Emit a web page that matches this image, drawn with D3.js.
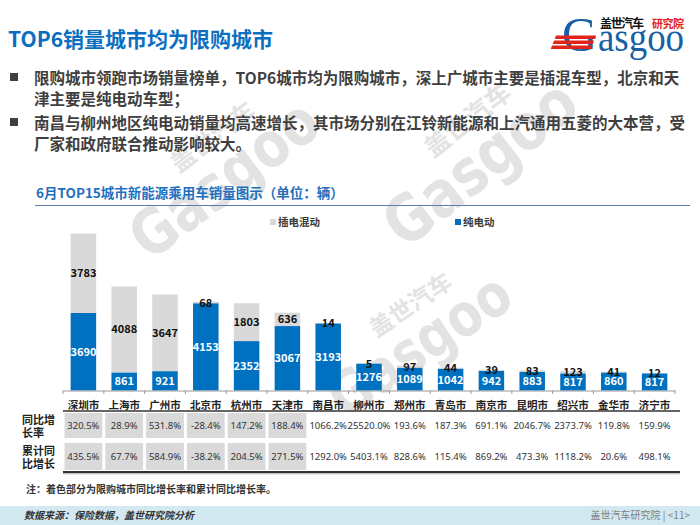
<!DOCTYPE html>
<html><head><meta charset="utf-8">
<script src="https://cdn.jsdelivr.net/npm/d3@7"></script>
<style>
html,body{margin:0;padding:0;background:#fff;}
svg{display:block;font-family:"Noto Sans CJK SC","Noto Sans",sans-serif;}
</style></head>
<body>
<svg id="c" width="700" height="525"></svg>
<script>
const cities = ["深圳市","上海市","广州市","北京市","杭州市","天津市","南昌市","柳州市","郑州市","青岛市","南京市","昆明市","绍兴市","金华市","济宁市"];
const phev = [3783,4088,3647,68,1803,636,14,5,97,44,39,83,123,41,12];
const bev  = [3690,861,921,4153,2352,3067,3193,1276,1089,1042,942,883,817,860,817];
const yoy  = ["320.5%","28.9%","531.8%","-28.4%","147.2%","188.4%","1066.2%","25520.0%","193.6%","187.3%","691.1%","2046.7%","2373.7%","119.8%","159.9%"];
const cum  = ["435.5%","67.7%","584.9%","-38.2%","204.5%","271.5%","1292.0%","5403.1%","828.6%","115.4%","869.2%","473.3%","1118.2%","20.6%","498.1%"];
const seriesNames = ["纯电动","插电混动"];
const shadedCount = 6;

const BLUE = "#0070C0", GRAY = "#D9D9D9", TXT = "#3a3a3a";
const svg = d3.select("#c");

// ---------- watermarks ----------
function watermark(x, y, ang, s){
  const g = svg.append("g").attr("transform",`translate(${x},${y}) rotate(${ang}) scale(${s})`)
    .attr("fill","#e3e3e3");
  g.append("text").attr("x",0).attr("y",0).attr("font-family","'DejaVu Sans',sans-serif")
    .attr("font-size",66).attr("font-weight","bold").attr("textLength",230).attr("lengthAdjust","spacingAndGlyphs").text("Gasgoo");
  g.append("text").attr("x",80).attr("y",-56).attr("font-size",26).attr("font-weight","bold").text("盖世汽车");
}
watermark(150,262,-37,0.95);
watermark(405,250,-38,0.98);
watermark(345,420,-34,0.9);

// ---------- title & bullets ----------
svg.append("text").attr("x",8).attr("y",47).attr("fill","#0B6FC0").attr("font-size",21).attr("font-weight","bold")
  .text("TOP6销量城市均为限购城市");
const bl = [
  {t:"限购城市领跑市场销量榜单，TOP6城市均为限购城市，深上广城市主要是插混车型，北京和天", y:84, b:true},
  {t:"津主要是纯电动车型；", y:105, b:false},
  {t:"南昌与柳州地区纯电动销量均高速增长，其市场分别在江铃新能源和上汽通用五菱的大本营，受", y:129, b:true},
  {t:"厂家和政府联合推动影响较大。", y:150, b:false}
];
bl.forEach(d=>{
  if(d.b) svg.append("rect").attr("x",10).attr("y",d.y-11).attr("width",8).attr("height",8).attr("fill","#3f3f3f");
  svg.append("text").attr("x",34).attr("y",d.y).attr("fill","#3f3f3f").attr("font-size",15.5).attr("font-weight","bold").text(d.t);
});

// ---------- logo ----------
const lg = svg.append("g");
lg.append("text").attr("x",562).attr("y",51).attr("font-family","'Liberation Serif','DejaVu Serif',serif")
  .attr("font-size",49).attr("fill","#1760A6").text("G");
lg.append("text").attr("x",598).attr("y",51).attr("font-family","'Liberation Serif','DejaVu Serif',serif")
  .attr("font-size",40).attr("fill","#1760A6").attr("textLength",86).attr("lengthAdjust","spacingAndGlyphs").text("asgoo");
[35.5,40.5,45.5].forEach((yy,i)=>{
  lg.append("rect").attr("x",556-i*2).attr("y",yy).attr("width",40).attr("height",3.4).attr("fill","#E2231A")
    .attr("transform",`skewX(-20)`).attr("transform-origin",`576 ${yy}`);
});
lg.append("text").attr("x",600).attr("y",28).attr("font-size",12).attr("font-weight","bold").attr("fill","#111")
  .attr("textLength",44).text("盖世汽车");
lg.append("text").attr("x",652).attr("y",28).attr("font-size",11).attr("font-weight","bold").attr("fill","#E2231A")
  .attr("textLength",32).text("研究院");

// ---------- chart subtitle ----------
svg.append("text").attr("x",36).attr("y",198).attr("fill","#1F6FBF").attr("font-size",13.5).attr("font-weight","bold")
  .text("6月TOP15城市新能源乘用车销量图示（单位：辆）");
svg.append("line").attr("x1",35).attr("x2",690).attr("y1",205.5).attr("y2",205.5).attr("stroke","#5B7DA8").attr("stroke-width",1.2);

// legend
const leg = [{n:seriesNames[1],c:GRAY,x:270},{n:seriesNames[0],c:BLUE,x:455}];
leg.forEach(d=>{
  svg.append("rect").attr("x",d.x).attr("y",219).attr("width",6).attr("height",6).attr("fill",d.c);
  svg.append("text").attr("x",d.x+8).attr("y",226).attr("font-size",10.5).attr("font-weight","bold").attr("fill",TXT).text(d.n);
});

// ---------- bars ----------
const x = d3.scaleBand().domain(cities).range([63,675]).paddingInner(0.375).paddingOuter(0.1875);
const y = d3.scaleLinear().domain([0,8000]).range([390.5,390.5-168.1]);
const table = cities.map((c,i)=>({city:c, bev:bev[i], phev:phev[i]}));
const stack = d3.stack().keys(["bev","phev"])(table);
const colors = {bev:BLUE, phev:GRAY};

const gb = svg.append("g");
stack.forEach(s=>{
  gb.selectAll(null).data(s).enter().append("rect")
    .attr("x",d=>x(d.data.city)).attr("width",x.bandwidth())
    .attr("y",d=>y(d[1])).attr("height",d=>y(d[0])-y(d[1]))
    .attr("fill",colors[s.key]);
});
stack.forEach(s=>{
  gb.selectAll(null).data(s).enter().append("text")
    .attr("x",d=>x(d.data.city)+x.bandwidth()/2)
    .attr("y",d=>(y(d[0])+y(d[1]))/2+4)
    .attr("text-anchor","middle").attr("font-size",11).attr("font-weight","bold")
    .attr("fill",s.key==="bev"?"#fff":"#111")
    .text(d=>d.data[s.key]);
});

// axis
const ax = svg.append("g").attr("transform","translate(0,390.5)")
  .call(d3.axisBottom(x).tickSize(0).tickSizeOuter(0).tickPadding(11));
ax.select(".domain").attr("stroke","#9a9a9a");
ax.selectAll("text").attr("font-size",10.5).attr("font-weight","bold").attr("fill","#222")
  .attr("font-family","'Noto Sans CJK SC',sans-serif");
d3.range(cities.length+1).forEach(i=>{
  const xx = x.range()[0] + i*x.step();
  svg.append("line").attr("x1",xx).attr("x2",xx).attr("y1",390.5).attr("y2",394).attr("stroke","#9a9a9a");
});

// ---------- table ----------
const rowsY = [{y0:413,y1:438,v:yoy,l:["同比增","长率"]},{y0:443,y1:470,v:cum,l:["累计同","比增长"]}];
rowsY.forEach(r=>{
  cities.forEach((c,i)=>{
    const x0 = x.range()[0] + i*x.step();
    if(i<shadedCount){
      svg.append("rect").attr("x",x0+1.5).attr("y",r.y0).attr("width",x.step()-3).attr("height",r.y1-r.y0).attr("fill",GRAY);
    }
    svg.append("text").attr("x",x0+x.step()/2).attr("y",(r.y0+r.y1)/2+3.5).attr("text-anchor","middle")
      .attr("font-size",9.5).attr("fill","#333").attr("font-family","'Noto Sans',sans-serif").text(r.v[i]);
  });
  svg.append("text").attr("x",22).attr("y",(r.y0+r.y1)/2-2).attr("font-size",11).attr("font-weight","bold").attr("fill","#222").text(r.l[0]);
  svg.append("text").attr("x",22).attr("y",(r.y0+r.y1)/2+11).attr("font-size",11).attr("font-weight","bold").attr("fill","#222").text(r.l[1]);
});
svg.append("line").attr("x1",63).attr("x2",680).attr("y1",411).attr("y2",411).attr("stroke","#333").attr("stroke-width",1.5);
svg.append("line").attr("x1",63).attr("x2",680).attr("y1",472).attr("y2",472).attr("stroke","#333").attr("stroke-width",2);
svg.append("line").attr("x1",63).attr("x2",680).attr("y1",473.8).attr("y2",473.8).attr("stroke","#aaa").attr("stroke-width",1);

// note
svg.append("text").attr("x",26).attr("y",493).attr("font-size",10).attr("font-weight","bold").attr("fill","#333")
  .text("注：着色部分为限购城市同比增长率和累计同比增长率。");

// footer
svg.append("rect").attr("x",0).attr("y",506).attr("width",700).attr("height",19).attr("fill","#D3E9F1");
svg.append("text").attr("x",24).attr("y",518.5).attr("font-size",10).attr("font-weight","bold").attr("font-style","italic")
  .attr("fill","#333").text("数据来源：保险数据，盖世研究院分析");
svg.append("text").attr("x",690).attr("y",518.5).attr("text-anchor","end").attr("font-size",10).attr("fill","#808080")
  .text("盖世汽车研究院 | <11>");
</script>
</body></html>
